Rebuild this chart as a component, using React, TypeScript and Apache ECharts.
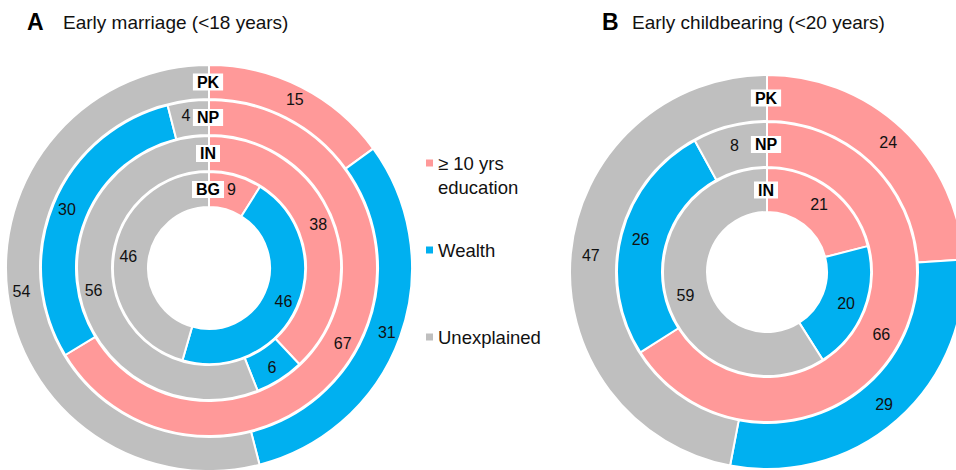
import React, { useEffect, useRef } from "react";
import * as echarts from "echarts";

// ---- Data ----
const categories = ["≥ 10 yrs\neducation", "Wealth", "Unexplained"];
const colors = ["#FF9999", "#00B0F0", "#BFBFBF"];

// Panel A: Early marriage (<18 years), inner ring -> outer ring
const countriesA = ["BG", "IN", "NP", "PK"];
const educationA = [9, 38, 67, 15];
const wealthA = [46, 6, 30, 31];
const unexplainedA = [46, 56, 4, 54];

// Panel B: Early childbearing (<20 years), inner ring -> outer ring
const countriesB = ["IN", "NP", "PK"];
const educationB = [21, 66, 24];
const wealthB = [20, 26, 29];
const unexplainedB = [59, 8, 47];

const titleA = "Early marriage (<18 years)";
const titleB = "Early childbearing (<20 years)";

// ---- Layout ----
const FONT = "'Liberation Sans', Arial, Helvetica, sans-serif";
const centerA = [209, 268];
const radiiA = [
  [61, 96],
  [97, 132],
  [133, 168],
  [169, 203],
];
const centerB = [767, 272];
const radiiB = [
  [60, 104],
  [105, 150],
  [151, 197],
];

function buildRings(
  id: string,
  countries: string[],
  edu: number[],
  wea: number[],
  une: number[],
  center: number[],
  radii: number[][]
) {
  return countries.map((c, i) => ({
    type: "pie",
    id: id + c,
    name: c,
    center,
    radius: radii[i],
    startAngle: 90,
    clockwise: true,
    silent: true,
    avoidLabelOverlap: false,
    itemStyle: { borderColor: "#ffffff", borderWidth: 2 },
    label: {
      show: true,
      position: "inside",
      formatter: "{c}",
      color: "#111111",
      fontSize: 16,
      fontFamily: FONT,
    },
    labelLine: { show: false },
    emphasis: { disabled: true },
    data: [edu[i], wea[i], une[i]].map((v, k) => {
      // small values near the top sit beside the ring-name tag
      const nearTop = k === 2 && v < 6;
      return {
        name: categories[k],
        value: v,
        itemStyle: { color: colors[k] },
        label: nearTop ? { offset: [-4, 0] } : undefined,
      };
    }),
  }));
}

function ringNames(countries: string[], center: number[], radii: number[][]) {
  return countries.map((c, i) => ({
    type: "text",
    z: 100,
    x: center[0] - 1,
    y: center[1] - (radii[i][0] + radii[i][1]) / 2,
    style: {
      text: c,
      fontSize: 16,
      fontWeight: "bold",
      fontFamily: FONT,
      fill: "#000000",
      backgroundColor: "#ffffff",
      padding: [1, 4, 0, 4],
      align: "center",
      verticalAlign: "middle",
    },
  }));
}

const legendYs = [163, 250, 337];

export default function App() {
  const ref = useRef<HTMLDivElement>(null);
  useEffect(() => {
    if (!ref.current) return;
    const chart = echarts.init(ref.current, null, { renderer: "svg" });
    const legendGraphics: any[] = [];
    categories.forEach((name, k) => {
      legendGraphics.push({
        type: "rect",
        shape: { x: 426, y: legendYs[k] - 3.5, width: 7, height: 7 },
        style: { fill: colors[k] },
      });
      legendGraphics.push({
        type: "text",
        x: 438,
        y: legendYs[k] - 12,
        style: {
          text: name,
          fontSize: 18.5,
          fontFamily: FONT,
          fill: "#111111",
          lineHeight: 24,
          align: "left",
          verticalAlign: "top",
        },
      });
    });
    chart.setOption({
      animation: false,
      series: [
        ...buildRings("A", countriesA, educationA, wealthA, unexplainedA, centerA, radiiA),
        ...buildRings("B", countriesB, educationB, wealthB, unexplainedB, centerB, radiiB),
      ],
      graphic: [
        {
          type: "text",
          x: 27,
          y: 22,
          style: { text: "A", fontSize: 23, fontWeight: "bold", fontFamily: FONT, fill: "#000", verticalAlign: "middle" },
        },
        {
          type: "text",
          x: 63,
          y: 22,
          style: { text: titleA, fontSize: 19, fontFamily: FONT, fill: "#111", verticalAlign: "middle" },
        },
        {
          type: "text",
          x: 602,
          y: 22,
          style: { text: "B", fontSize: 23, fontWeight: "bold", fontFamily: FONT, fill: "#000", verticalAlign: "middle" },
        },
        {
          type: "text",
          x: 632,
          y: 22,
          style: { text: titleB, fontSize: 19, fontFamily: FONT, fill: "#111", verticalAlign: "middle" },
        },
        ...ringNames(countriesA, centerA, radiiA),
        ...ringNames(countriesB, centerB, radiiB),
        ...legendGraphics,
      ],
    });
    return () => chart.dispose();
  }, []);
  return (
    <div
      ref={ref}
      style={{ position: "absolute", left: 0, top: 0, width: 956, height: 470, background: "#fff" }}
    />
  );
}
